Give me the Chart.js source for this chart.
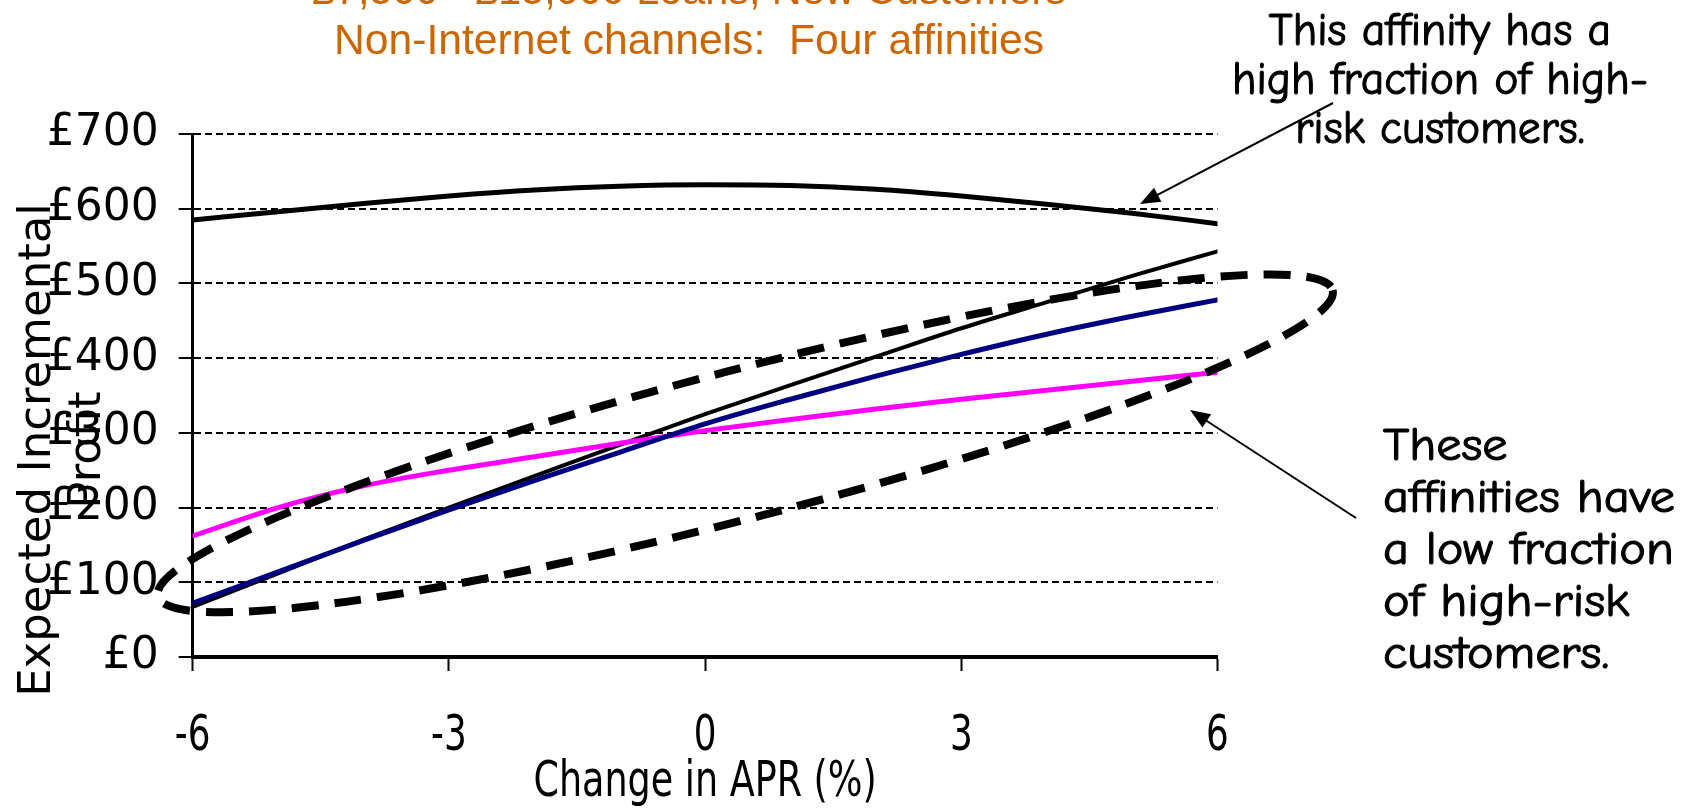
<!DOCTYPE html>
<html>
<head>
<meta charset="utf-8">
<style>
  html, body { margin: 0; padding: 0; background: #ffffff; }
  #wrap { width: 1688px; height: 808px; position: relative; }
</style>
<script src="https://cdn.jsdelivr.net/npm/chart.js@4.4.1/dist/chart.umd.min.js"></script>
</head>
<body>
<div id="wrap"><canvas id="c" width="1688" height="808"></canvas></div>
<script>
// Change in APR (percentage points)
const aprChange = [-6, -5, -4, -3, -2, -1, 0, 1, 2, 3, 4, 5, 6];

// Expected incremental profit (£) per affinity
const highRiskAffinity = [585, 596, 607, 617, 625, 630, 632, 631, 626, 617, 606, 594, 580];
const affinityNavy     = [72, 114, 156, 197, 236, 274, 312, 345, 376, 405, 432, 456, 478];
const affinityMagenta  = [162, 200, 229, 250, 268, 286, 303, 318, 332, 345, 357, 369, 381];
const affinityBlack    = [67, 112, 157, 200, 242, 284, 325, 364, 402, 440, 475, 510, 543];

const yTicks = [0, 100, 200, 300, 400, 500, 600, 700];
const xTicks = [-6, -3, 0, 3, 6];

const titleLines  = ['£7,500 - £15,000 Loans, New Customers', 'Non-Internet channels:  Four affinities'];
const yTitleLines = ['Expected Incremental', 'Profit'];
const xTitle      = 'Change in APR (%)';
const noteHigh    = ['This affinity has a', 'high fraction of high-', 'risk customers.'];
const noteLow     = ['These', 'affinities have', 'a low fraction', 'of high-risk', 'customers.'];

// Group of low-risk affinities, ringed around a centre given in data units
const ringCentre = { x: 0.47, y: 286 };

const series = (ys) => aprChange.map((x, i) => ({ x: x, y: ys[i] }));

const FONT_AXIS = "'DejaVu Sans', Verdana, sans-serif";
const FONT_TITLE = "'Liberation Sans', Arial, sans-serif";
const FONT_NOTE = "'Comic Sans MS', 'Comic Neue', 'Open Sans', sans-serif";
const X_NARROW = 0.73;   // horizontal squeeze of the x-axis lettering

function fitText(ctx, text, x, y, scaleX, align, stroke) {
  ctx.save();
  ctx.translate(x, y);
  ctx.scale(scaleX, 1);
  ctx.textAlign = align;
  ctx.fillText(text, 0, 0);
  if (stroke) {
    ctx.lineWidth = stroke;
    ctx.lineJoin = 'round';
    ctx.strokeText(text, 0, 0);
  }
  ctx.restore();
}

function blockScale(ctx, lines, targetWidth) {
  let w = 0;
  lines.forEach(t => { w = Math.max(w, ctx.measureText(t).width); });
  return targetWidth / w;
}

function arrow(ctx, x1, y1, x2, y2) {
  const ang = Math.atan2(y2 - y1, x2 - x1);
  const len = 20, half = 8;
  ctx.save();
  ctx.strokeStyle = '#000';
  ctx.fillStyle = '#000';
  ctx.lineWidth = 2;
  ctx.beginPath();
  ctx.moveTo(x1, y1);
  ctx.lineTo(x2 - Math.cos(ang) * len * 0.8, y2 - Math.sin(ang) * len * 0.8);
  ctx.stroke();
  ctx.beginPath();
  ctx.moveTo(x2, y2);
  ctx.lineTo(x2 - Math.cos(ang) * len + Math.sin(ang) * half, y2 - Math.sin(ang) * len - Math.cos(ang) * half);
  ctx.lineTo(x2 - Math.cos(ang) * len - Math.sin(ang) * half, y2 - Math.sin(ang) * len + Math.cos(ang) * half);
  ctx.closePath();
  ctx.fill();
  ctx.restore();
}

// Squeezes the x-axis tick labels and title horizontally, keeping each centred where the scale put it
function narrowXAxis(xs) {
  if (xs.__narrowed) return;
  xs.__narrowed = true;
  const drawLabels = xs.drawLabels;
  xs.drawLabels = function (chartArea) {
    const items = this.getLabelItems(chartArea);
    this._labelItems = items.map(it => Object.assign({}, it, {
      options: Object.assign({}, it.options, {
        translation: [it.options.translation[0] / X_NARROW, it.options.translation[1]]
      })
    }));
    const ctx = this.ctx;
    ctx.save();
    ctx.scale(X_NARROW, 1);
    drawLabels.call(this, chartArea);
    ctx.restore();
    this._labelItems = items;
  };
  const drawTitle = xs.drawTitle;
  xs.drawTitle = function () {
    const ctx = this.ctx;
    const cx = (this.left + this.right) / 2;
    ctx.save();
    ctx.translate(cx, 0);
    ctx.scale(X_NARROW, 1);
    ctx.translate(-cx, 0);
    drawTitle.call(this);
    ctx.restore();
  };
}

const decorations = {
  id: 'decorations',
  beforeDraw(chart) {
    narrowXAxis(chart.scales.x);
  },
  afterDatasetsDraw(chart) {
    const ctx = chart.ctx;
    const xs = chart.scales.x, ys = chart.scales.y;
    // dashed ring around the low-risk affinities
    ctx.save();
    ctx.strokeStyle = '#000';
    ctx.lineWidth = 8;
    ctx.setLineDash([27, 16]);
    ctx.beginPath();
    ctx.ellipse(xs.getPixelForValue(ringCentre.x), ys.getPixelForValue(ringCentre.y),
                607, 74, -14.6 * Math.PI / 180, 0, Math.PI * 2);
    ctx.stroke();
    ctx.restore();
  },
  afterDraw(chart) {
    const ctx = chart.ctx;
    ctx.save();
    ctx.textBaseline = 'alphabetic';

    // chart title
    ctx.fillStyle = '#CC6600';
    ctx.font = '42px ' + FONT_TITLE;
    fitText(ctx, titleLines[0], 689, 4, 754 / ctx.measureText(titleLines[0]).width, 'center');
    fitText(ctx, titleLines[1], 689, 54, 710 / ctx.measureText(titleLines[1]).width, 'center');

    // y-axis title, two rotated lines
    ctx.fillStyle = '#000';
    ctx.font = '45px ' + FONT_AXIS;
    ctx.save();
    ctx.translate(50, 450);
    ctx.rotate(-Math.PI / 2);
    ctx.textAlign = 'center';
    ctx.fillText(yTitleLines[0], 0, 0);
    ctx.fillText(yTitleLines[1], 0, 50);
    ctx.restore();

    // notes
    ctx.strokeStyle = '#000';
    ctx.font = '46px ' + FONT_NOTE;
    let s = blockScale(ctx, noteHigh, 416);
    [45, 94, 143].forEach((y, i) => fitText(ctx, noteHigh[i], 1440, y, s, 'center', 1.1));
    s = blockScale(ctx, noteLow, 292);
    [460, 512, 564, 616, 668].forEach((y, i) => fitText(ctx, noteLow[i], 1383, y, s, 'left', 1.1));
    ctx.restore();

    arrow(ctx, 1333, 103, 1140, 204);
    arrow(ctx, 1356, 518, 1190, 410);
  }
};

const lineDs = (label, ys, color, width) => ({
  label: label,
  data: series(ys),
  borderColor: color,
  backgroundColor: color,
  borderWidth: width,
  pointRadius: 0,
  cubicInterpolationMode: 'monotone',
  fill: false,
  borderCapStyle: 'round',
  borderJoinStyle: 'round'
});

new Chart(document.getElementById('c'), {
  type: 'line',
  data: {
    datasets: [
      lineDs('High-risk affinity', highRiskAffinity, '#000000', 5),
      lineDs('Affinity B', affinityNavy, '#000080', 5),
      lineDs('Affinity C', affinityMagenta, '#FF00FF', 5),
      lineDs('Affinity D', affinityBlack, '#000000', 4)
    ]
  },
  options: {
    responsive: false,
    animation: false,
    events: [],
    layout: { autoPadding: false, padding: { top: 134, right: 470.5, left: 0, bottom: 0 } },
    plugins: { legend: { display: false }, tooltip: { enabled: false }, title: { display: false } },
    scales: {
      x: {
        type: 'linear',
        min: -6, max: 6,
        afterBuildTicks: (scale) => { scale.ticks = xTicks.map(v => ({ value: v })); },
        ticks: { color: '#000', font: { family: FONT_AXIS, size: 49 }, padding: 37, maxRotation: 0, autoSkip: false },
        grid: { drawOnChartArea: false, drawTicks: true, tickLength: 14, tickWidth: 2, tickColor: '#000', color: '#000' },
        border: { color: '#000', width: 4 },
        title: { display: true, text: xTitle, color: '#000', padding: 0, font: { family: FONT_AXIS, size: 50, lineHeight: 1 } },
        afterFit: (scale) => { scale.height = 151; scale.paddingLeft = 0; scale.paddingRight = 0; }
      },
      y: {
        min: 0, max: 700,
        afterBuildTicks: (scale) => { scale.ticks = yTicks.map(v => ({ value: v })); },
        ticks: { color: '#000', font: { family: FONT_AXIS, size: 44 }, padding: 20, callback: (v) => '£' + v },
        grid: { color: '#000', lineWidth: 2, tickLength: 14, tickWidth: 2, tickColor: '#000' },
        border: { color: '#000', width: 3, dash: [7, 4] },
        afterFit: (scale) => { scale.width = 192.7; scale.paddingTop = 0; scale.paddingBottom = 0; }
      }
    }
  },
  plugins: [decorations]
});
</script>
</body>
</html>
